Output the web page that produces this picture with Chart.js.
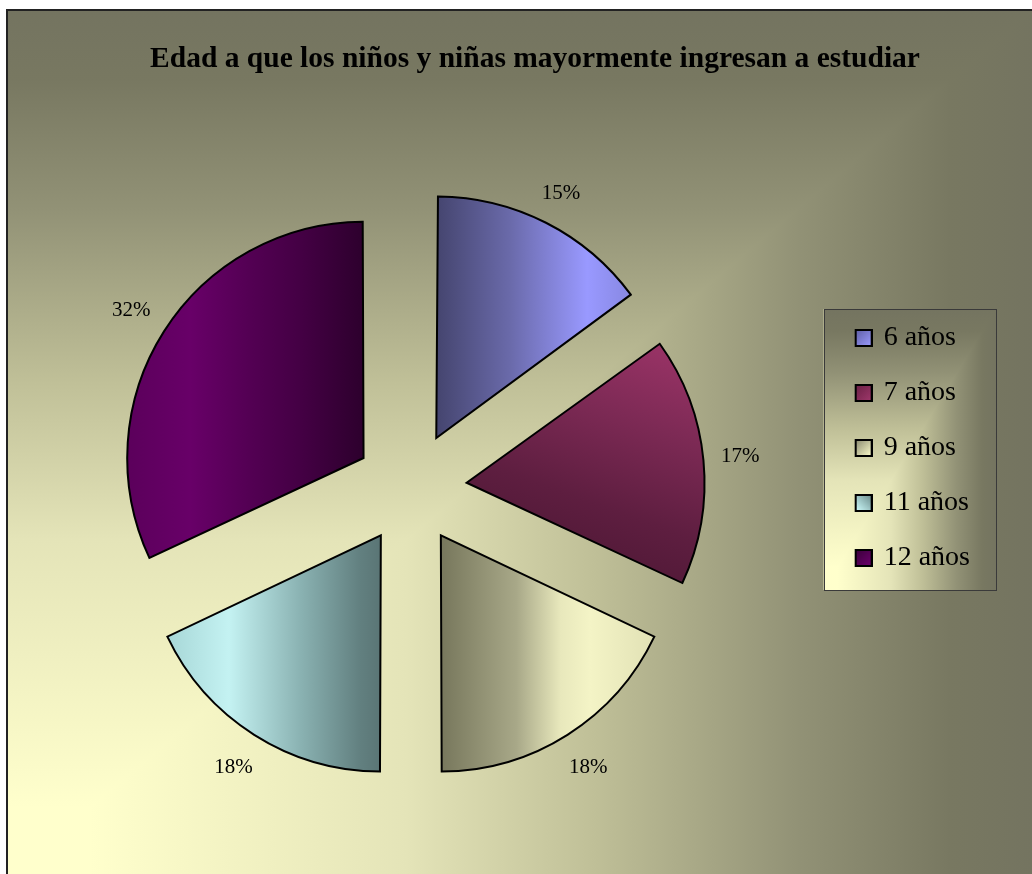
<!DOCTYPE html>
<html lang="es">
<head>
<meta charset="utf-8">
<title>Edad a que los niños y niñas mayormente ingresan a estudiar</title>
<script src="https://cdn.jsdelivr.net/npm/chart.js@4.4.1/dist/chart.umd.min.js"></script>
<style>
  html, body { margin: 0; padding: 0; background: #fff; overflow: hidden; }
  #frame { position: absolute; left: 6px; top: 9px; width: 1040px; height: 890px;
           border-left: 2px solid #222; border-top: 2px solid #222; }
  #chart { display: block; }
</style>
</head>
<body>
<div id="frame"><canvas id="chart" width="1024" height="874"></canvas></div>
<script>
// chart data
const titleText = 'Edad a que los niños y niñas mayormente ingresan a estudiar';
const ageLabels = ['6 años', '7 años', '9 años', '11 años', '12 años'];
const percentValues = [15, 17, 18, 18, 32];

// styling
const SERIF = "'Liberation Serif', 'Times New Roman', serif";
const EXPLODE = 224;          // arc offset option (Chart.js moves slices by offset/4)
const MARKER_SLOT = 111;      // legend marker slot width
const baseColors = ['#9999FF', '#993366', '#FFFFCC', '#CCFFFF', '#660066'];
// slice shading, offsets measured from the pie centre
const sliceShades = [
    { from: [26, 0], to: [214, 0], stops: [[0, '#45456F'], [0.39, '#6A6AAA'], [0.8, '#9999FF'], [1, '#8A8AE6']] },
    { from: [149, 102], to: [239, -148], stops: [[0, '#4A1632'], [0.35, '#5E1E40'], [0.7, '#7D2A55'], [1, '#993366']] },
    { from: [30, 0], to: [240, 0], stops: [[0, '#77775C'], [0.36, '#A8A888'], [0.57, '#E8E8BC'], [0.71, '#F4F4C6'], [1, '#E2E2B6']] },
    { from: [-241, 0], to: [-30, 0], stops: [[0, '#A8D8D8'], [0.28, '#C4F2F2'], [0.62, '#8AB2B2'], [0.9, '#628080'], [1, '#5A7575']] },
    { from: [-290, 0], to: [-50, 0], stops: [[0, '#5A005A'], [0.29, '#680068'], [0.54, '#530053'], [0.75, '#440044'], [1, '#2E002E']] }
];
const markerShades = [
    ['#5F5FA5', '#9C9CFF'], ['#6A2044', '#A0386C'], ['#8A8A70', '#FFFFCC'],
    ['#6A8A8A', '#D0FFFF'], ['#3A003A', '#6E006E']
];
const bgStops = [[0, '#FFFFCC'], [0.08, '#FFFFCC'], [0.39, '#E4E4B8'], [0.57, '#C0C098'],
                 [0.77, '#929276'], [0.92, '#787861'], [1, '#747460']];

// light corner bottom-left, darker towards the top and the right edge
function cornerGradient(ctx, x0, y0, x1, y1, stops){
    const gh = ctx.createLinearGradient(x0, 0, x1, 0);
    const gv = ctx.createLinearGradient(0, y1, 0, y0);
    stops.forEach(([t, c]) => { gh.addColorStop(t, c); gv.addColorStop(t, c); });
    ctx.save();
    ctx.fillStyle = gh;
    ctx.fillRect(x0, y0, x1 - x0, y1 - y0);
    ctx.beginPath();
    ctx.moveTo(x0, y1); ctx.lineTo(x1, y0); ctx.lineTo(x0, y0); ctx.closePath();
    ctx.clip();
    ctx.fillStyle = gv;
    ctx.fillRect(x0, y0, x1 - x0, y1 - y0);
    ctx.restore();
}

function sliceFill(c){
    const i = c.dataIndex;
    const area = c.chart.chartArea;
    if (!area) return baseColors[i];
    const data = c.chart.data.datasets[0].data;
    const total = data.reduce((a, b) => a + b, 0);
    let before = 0;
    for (let j = 0; j < i; j++) before += data[j];
    // the arc is drawn inside a translated context, undo that shift
    const mid = -Math.PI / 2 + (before + data[i] / 2) / total * Math.PI * 2;
    const sx = Math.cos(mid) * EXPLODE / 4, sy = Math.sin(mid) * EXPLODE / 4;
    const cx = (area.left + area.right) / 2, cy = (area.top + area.bottom) / 2;
    const s = sliceShades[i];
    const g = c.chart.ctx.createLinearGradient(
        cx + s.from[0] - sx, cy + s.from[1] - sy, cx + s.to[0] - sx, cy + s.to[1] - sy);
    s.stops.forEach(([t, col]) => g.addColorStop(t, col));
    return g;
}

function makeMarker(i){
    const c = document.createElement('canvas');
    c.width = MARKER_SLOT + 6; c.height = 18;
    const g = c.getContext('2d');
    const x0 = c.width - 18;
    const [dark, light] = markerShades[i];
    const grad = i === 3 ? g.createLinearGradient(x0 + 17, 1, x0 + 1, 17)
                         : g.createLinearGradient(x0 + 1, 1, x0 + 17, 17);
    grad.addColorStop(0, dark); grad.addColorStop(1, light);
    g.fillStyle = grad;
    g.fillRect(x0 + 1, 1, 16, 16);
    g.lineWidth = 2; g.strokeStyle = '#000';
    g.strokeRect(x0 + 1, 1, 16, 16);
    return c;
}
const markers = ageLabels.map((_, i) => makeMarker(i));

const backdrop = {
    id: 'backdrop',
    beforeDraw(chart){
        const ctx = chart.ctx;
        cornerGradient(ctx, 0, 0, chart.width, 866, bgStops);
        const boxes = chart.legend && chart.legend.legendHitBoxes;
        if (!boxes || !boxes.length) return;
        const first = boxes[0], last = boxes[boxes.length - 1];
        const left = first.left + MARKER_SLOT - 46;
        const right = first.left + Math.max(...boxes.map(b => b.width)) + 26;
        const top = first.top - 15, bottom = last.top + 46;
        cornerGradient(ctx, left, top, right, bottom, bgStops);
        ctx.save();
        ctx.strokeStyle = '#3A3A3A'; ctx.lineWidth = 1;
        ctx.strokeRect(Math.round(left) + 0.5, Math.round(top) + 0.5, Math.round(right - left), Math.round(bottom - top));
        ctx.restore();
    }
};

const pctLabels = {
    id: 'pctLabels',
    afterDatasetsDraw(chart){
        const ctx = chart.ctx;
        const meta = chart.getDatasetMeta(0);
        const data = chart.data.datasets[0].data;
        ctx.save();
        ctx.font = '21px ' + SERIF;
        ctx.fillStyle = '#000';
        ctx.textAlign = 'center';
        ctx.textBaseline = 'middle';
        meta.data.forEach((arc, i) => {
            const p = arc.getProps(['x', 'y', 'startAngle', 'endAngle', 'outerRadius'], true);
            const mid = (p.startAngle + p.endAngle) / 2;
            const r = p.outerRadius + EXPLODE / 4 + 44;
            ctx.fillText(data[i] + '%', p.x + Math.cos(mid) * r, p.y + Math.sin(mid) * r);
        });
        ctx.restore();
    }
};

new Chart(document.getElementById('chart'), {
    type: 'pie',
    data: {
        labels: ageLabels,
        datasets: [{
            data: percentValues,
            backgroundColor: sliceFill,
            borderColor: '#000',
            borderWidth: 2,
            borderJoinStyle: 'miter',
            offset: EXPLODE
        }]
    },
    options: {
        responsive: false,
        animation: false,
        events: [],
        radius: 231,
        layout: { padding: { left: 82, right: 52, top: 0, bottom: 0 } },
        plugins: {
            title: {
                display: true,
                text: titleText,
                color: '#000',
                font: { family: SERIF, size: 29.5, weight: 'bold' },
                padding: { top: 31, bottom: 13.6 }
            },
            legend: {
                position: 'right',
                align: 'center',
                labels: {
                    usePointStyle: true,
                    pointStyleWidth: MARKER_SLOT,
                    padding: 27,
                    color: '#000',
                    font: { family: SERIF, size: 28 },
                    generateLabels: () => ageLabels.map((text, i) => ({
                        text: text, index: i, datasetIndex: 0, hidden: false,
                        fillStyle: baseColors[i], strokeStyle: '#000', lineWidth: 0,
                        pointStyle: markers[i], fontColor: '#000'
                    }))
                }
            },
            tooltip: { enabled: false }
        }
    },
    plugins: [backdrop, pctLabels]
});
</script>
</body>
</html>
